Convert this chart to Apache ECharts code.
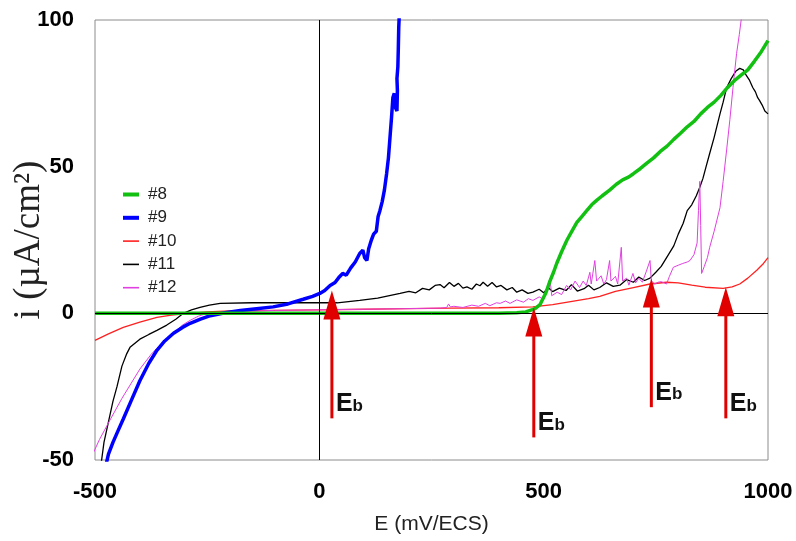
<!DOCTYPE html>
<html>
<head>
<meta charset="utf-8">
<script src="https://cdn.jsdelivr.net/npm/echarts@6/dist/echarts.min.js"></script>
<style>html,body{margin:0;padding:0;background:#fff}#c{width:796px;height:541px}</style>
</head>
<body>
<div id="c"></div>
<script>
// Tick labels / axes
var xTicks = [-500, 0, 500, 1000];
var yTicks = [-50, 0, 50, 100];
var seriesNames = ['#8', '#9', '#10', '#11', '#12'];

// #8 (green)
var s8 = [[-500,0],[-300,0],[-100,0],[0,0],[200,0],[400,0],[440,0.2],[460,0.5],[480,1.5],[492,3],[505,7],[514,11],[522,14],[529,17],[540,21],[552,25],[563,28],[574,31],[585,33],[596,35],[607,37],[618,38.5],[630,40],[647,42],[662,44],[676,45.5],[690,46.5],[700,47.6],[715,49.3],[730,51.2],[745,53],[760,55.2],[775,57],[790,59.3],[805,61.4],[820,63.6],[835,65.4],[850,68],[865,70.2],[880,72],[895,74.3],[910,77],[925,79.3],[940,81.2],[955,83],[970,86],[985,89.2],[1000,93]];

// #9 (blue)
var s9 = [[-476,-52],[-470,-48],[-460,-44],[-450,-40.5],[-437,-36],[-420,-30],[-400,-23],[-380,-17],[-362,-12.6],[-345,-9.5],[-325,-6.8],[-305,-4.8],[-288,-3.4],[-265,-2],[-243,-0.8],[-210,0.2],[-176,1],[-140,1.6],[-103,2.2],[-70,3.2],[-36,4.8],[-15,5.8],[1,6.8],[12,7.8],[24,9.5],[35,10.5],[45,12.5],[52,13.6],[60,13],[70,15.5],[80,17.5],[90,20.4],[97,21.5],[101,19],[106,18],[110,22],[116,25],[121,27],[127,28],[131,33],[135,35],[140,38],[145,42],[150,47.7],[154,53],[158,61],[161,67],[164,73.6],[167,75],[170,70],[173,69],[174,76],[173,80],[175,84],[176,90],[177,97.5],[178,101]];

// #10 (red)
var s10 = [[-500,-9.2],[-470,-7],[-437,-4.8],[-400,-3],[-362,-1.4],[-330,-0.6],[-288,0],[-250,0.5],[-200,0.8],[-100,1.0],[0,1.2],[100,1.4],[200,1.6],[292,1.8],[400,1.9],[476,2.2],[520,3],[560,4],[600,5],[625,5.8],[660,7.5],[700,8.8],[737,10],[774,10.6],[800,10.4],[830,9.6],[860,8.9],[900,8.5],[920,9],[937,10],[955,12],[975,14.7],[990,17],[1000,19]];

// #11 (black)
var s11 = [[-487,-52],[-480,-44],[-470,-37],[-460,-30],[-451,-25],[-440,-18],[-430,-14],[-422,-11.6],[-400,-8.8],[-380,-7.2],[-362,-5.8],[-340,-4],[-320,-2],[-303,0],[-285,1.2],[-266,2],[-245,2.8],[-221,3.4],[-150,3.6],[-80,3.6],[-5,3.6],[40,3.6],[90,4.4],[130,5.2],[180,6.8],[200,7.5],[215,7],[230,8.5],[245,8],[258,9.5],[269,9.8],[278,8.7],[290,10.5],[300,9.2],[310,10.2],[320,8.6],[329,9],[340,8.2],[350,10],[358,9.4],[365,10.6],[375,9.2],[385,10.5],[395,9],[405,9.5],[418,8],[430,8.8],[440,7.2],[452,8],[465,6.8],[476,7.2],[490,8.2],[500,7],[510,8.8],[520,7.4],[535,8.6],[550,7.8],[562,9.8],[575,7.6],[590,8.4],[600,9.6],[612,8],[625,8.8],[640,10.4],[655,9.2],[670,9.6],[685,11.5],[700,10.6],[712,12.4],[725,11.2],[737,12],[750,14],[762,16],[774,19],[790,23],[800,27],[811,30.7],[820,35],[830,37],[840,40],[848,43],[855,46],[862,50],[870,54.5],[880,60],[893,68],[900,72],[908,77],[918,80],[928,82.5],[937,83.5],[945,83],[952,81],[959,79.4],[966,77],[972,75.5],[977,73.5],[981,72.6],[987,71],[993,69],[1000,68]];

// #12 (violet)
var s12 = [[-505,-48],[-490,-43],[-467,-36.5],[-440,-29],[-420,-24],[-400,-19],[-375,-14],[-350,-10],[-325,-6.8],[-305,-4],[-288,-2.4],[-270,-1],[-250,0],[-200,0.6],[-100,1],[0,1.2],[100,1.4],[200,1.6],[270,1.8],[284,2],[288,3.2],[292,2.2],[300,2.4],[320,2],[340,2.8],[355,2.4],[370,3.4],[380,2.6],[395,3.6],[403,3.4],[415,4.2],[425,3.4],[440,4.6],[455,3.8],[466,5],[476,4.4],[490,5.6],[500,4.8],[514,12],[518,6],[530,7.2],[540,6.4],[551,9.5],[560,8],[570,11],[580,8.8],[588,11],[595,9.5],[603,14],[606,10],[614,18],[618,11],[628,12.8],[634,10],[640,11.5],[647,18],[650,11],[660,12.6],[665,10],[673,22.5],[676,11],[685,12],[690,9.6],[699,13.6],[705,10.4],[712,12],[720,10.6],[729,14.4],[737,18],[740,11],[748,10],[755,10.6],[762,10.8],[774,10],[780,12.5],[789,15.7],[800,16.4],[810,17],[820,17.5],[826,18],[835,20],[842,24],[845,35],[848,45],[850,30],[852,13.6],[858,16],[865,19],[870,22.5],[880,28],[893,36],[900,45],[908,56],[915,66],[922,77],[930,88.6],[936,95],[941,101]];

// Breakdown arrows: [E, bottom of shaft, tip]
var arrows = [[28,-35.8,7.8],[478,-42.3,2.0],[740,-32,11.9],[906,-35.8,8.9]];

var chart = echarts.init(document.getElementById('c'));

function lineSeries(name, data, color, width) {
  return {
    name: name, type: 'line', data: data, symbol: 'none', showSymbol: false,
    lineStyle: {color: color, width: width}, itemStyle: {color: color},
    animation: false, clip: true, z: 3
  };
}

var thickIcon = 'path://M0,0L16,0L16,4L0,4Z';
var thinIcon = 'path://M0,0L16,0L16,1.6L0,1.6Z';
var fontSans = 'Liberation Sans, Arial';

var option = {
  animation: false,
  backgroundColor: '#fff',
  grid: {left: 95, right: 28, top: 20, bottom: 81, show: true, borderColor: '#8c8c8c', borderWidth: 1,
    containLabel: false, outerBoundsMode: 'none'},
  legend: {
    data: [
      {name: seriesNames[0], icon: thickIcon},
      {name: seriesNames[1], icon: thickIcon},
      {name: seriesNames[2], icon: thinIcon},
      {name: seriesNames[3], icon: thinIcon},
      {name: seriesNames[4], icon: thinIcon}
    ],
    orient: 'vertical', left: 118, top: 181,
    itemWidth: 16, itemHeight: 14, itemGap: 6.3, symbolKeepAspect: true,
    textStyle: {fontFamily: fontSans, fontSize: 17, color: '#222', padding: [0, 0, 0, 4]}
  },
  xAxis: {
    type: 'value', min: xTicks[0], max: xTicks[xTicks.length - 1], interval: 500,
    axisLine: {show: false}, axisTick: {show: false}, splitLine: {show: false},
    axisLabel: {fontFamily: fontSans, fontWeight: 'bold', fontSize: 22, color: '#000', margin: 21,
      formatter: function (v) { return String(v); }},
    name: 'E (mV/ECS)', nameLocation: 'middle', nameGap: 54, nameMoveOverlap: false,
    nameTextStyle: {fontFamily: fontSans, fontSize: 21, color: '#222'}
  },
  yAxis: {
    type: 'value', min: yTicks[0], max: yTicks[yTicks.length - 1], interval: 50,
    axisLine: {show: false}, axisTick: {show: false}, splitLine: {show: false},
    axisLabel: {fontFamily: fontSans, fontWeight: 'bold', fontSize: 22, color: '#000', margin: 21,
      formatter: function (v) { return String(v); }},
    name: 'i (\u00b5A/cm\u00b2)', nameLocation: 'middle', nameGap: 47, nameMoveOverlap: false,
    nameTextStyle: {fontFamily: 'Liberation Serif, Times New Roman', fontSize: 37, color: '#222'}
  },
  series: [
    {
      name: 'zero', type: 'line', data: [], symbol: 'none', z: 1, silent: true,
      markLine: {
        silent: true, symbol: 'none', animation: false,
        lineStyle: {color: '#000', width: 1, type: 'solid'}, label: {show: false},
        data: [{xAxis: 0}, {yAxis: 0}]
      }
    },
    lineSeries('#10', s10, '#ff2020', 1.3),
    lineSeries('#11', s11, '#000000', 1.3),
    lineSeries('#12', s12, '#e040e0', 1),
    lineSeries('#9', s9, '#0000ff', 3.5),
    lineSeries('#8', s8, '#11c011', 3.5),
    {
      name: 'arrows', type: 'custom', data: arrows, z: 10, silent: true,
      renderItem: function (params, api) {
        var x = api.value(0);
        var b = api.coord([x, api.value(1)]);
        var t = api.coord([x, api.value(2)]);
        var hw = 8.5, hh = 29;
        return {
          type: 'group',
          children: [
            {type: 'line', shape: {x1: b[0], y1: b[1], x2: t[0], y2: t[1] + hh - 2}, style: {stroke: '#e00000', lineWidth: 3}},
            {type: 'polygon', shape: {points: [[t[0], t[1]], [t[0] - hw, t[1] + hh], [t[0] + hw, t[1] + hh]]}, style: {fill: '#e00000'}},
            {type: 'text', x: b[0] + 4, y: b[1] - 2, style: {
              text: '{E|E}{b|b}', verticalAlign: 'bottom', align: 'left',
              rich: {
                E: {fontFamily: fontSans, fontWeight: 'bold', fontSize: 25, fill: '#111', color: '#111', verticalAlign: 'bottom', lineHeight: 28},
                b: {fontFamily: fontSans, fontWeight: 'bold', fontSize: 17, fill: '#111', color: '#111', verticalAlign: 'bottom', lineHeight: 24, padding: [0, 0, 2, 0]}
              }
            }}
          ]
        };
      }
    }
  ]
};
chart.setOption(option);
</script>
</body>
</html>
